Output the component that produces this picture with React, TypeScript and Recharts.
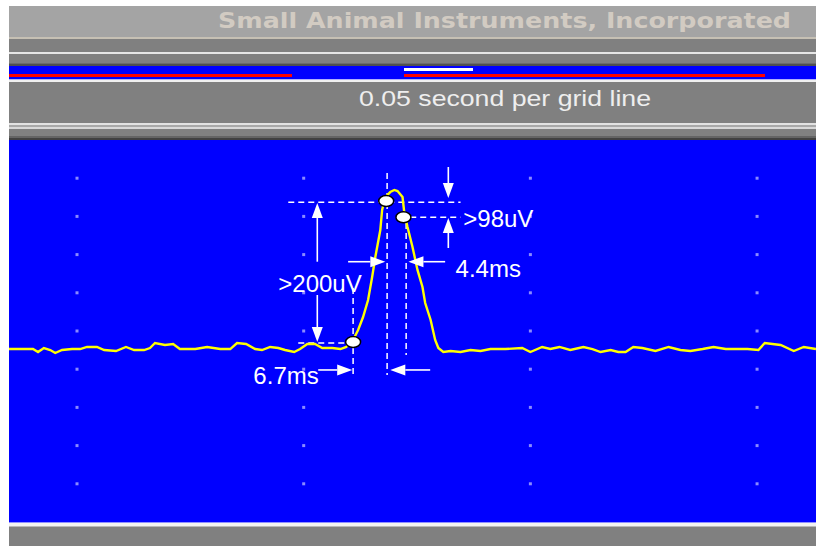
// Oscilloscope-style capture: single evoked potential on a blue scope face,
// with the measurement annotations (amplitude and timing) drawn as reference marks.

import {
  ComposedChart, Line, Scatter, XAxis, YAxis,
  ReferenceLine, ReferenceDot
} from 'recharts'

// trace, time in ms (0.05 s per grid column) and amplitude in uV
const TIME_MS = [
  0, 2.4, 5.3, 6.4, 7.7, 9.1, 10.2, 11.7, 13.9, 15.7, 17.2, 19.4, 21.0, 23.6, 25.8,
  27.6, 29.8, 31.1, 32.2, 34.4, 36.2, 37.7, 41.1, 43.7, 46.6, 48.8, 50.3, 52.3, 54.3,
  55.8, 57.6, 59.4, 60.9, 62.9, 64.2, 65.8, 67.5, 69.1, 71.3, 73.1, 74.4,
  75.9, 77.0, 78.1, 79.2, 80.1, 80.8, 81.9, 82.3, 83.0, 84.1, 85.0, 85.7, 86.8,
  87.2, 87.9, 89.0, 90.1, 91.2, 91.8, 93.0, 94.0, 94.7, 95.8,
  97.4, 99.6, 101.8, 104.0, 106.2, 109.5, 113.2, 115.0, 117.6, 119.4, 121.4, 123.8,
  126.7, 128.7, 130.5, 132.7, 134.4, 136.0, 137.7, 139.7, 142.6, 145.5, 148.1, 150.3,
  153.0, 155.4, 158.1, 162.9, 165.3, 166.7, 168.4, 170.2, 173.1, 175.3, 178.0,
]
const SIGNAL_UV = [
  26.4, 26.4, 26.4, 22.5, 27.7, 25.1, 21.2, 25.1, 26.4, 26.4, 29.1, 29.1, 25.1, 23.8, 29.1,
  25.1, 25.1, 27.7, 34.3, 31.7, 33.0, 26.4, 26.4, 29.1, 26.4, 26.4, 34.3, 33.0, 26.4,
  25.1, 29.1, 27.7, 25.1, 22.5, 26.4, 33.0, 33.0, 27.7, 27.7, 26.4, 29.1,
  38.2, 51.3, 68.3, 90.6, 120.7, 146.9, 182.2, 208.4, 225.4, 231.9, 234.6, 233.2, 225.4,
  204.5, 186.1, 160.0, 129.9, 107.6, 86.6, 64.4, 38.2, 27.7, 22.5,
  23.8, 22.5, 25.1, 23.8, 26.4, 26.4, 27.7, 22.5, 29.1, 26.4, 29.1, 25.1,
  29.1, 26.4, 22.5, 25.1, 22.5, 22.5, 29.1, 27.7, 23.8, 29.1, 25.1, 23.8,
  26.4, 29.1, 26.4, 26.4, 25.1, 34.3, 33.0, 31.7, 23.8, 29.1, 26.4,
]

// dotted graticule
const GRID_TIMES = [15, 65, 115, 165]
const GRID_LEVELS = [250, 200, 150, 100, 50, 0, -50, -100, -150]

// picked points on the trace (peak, 2nd peak point, onset)
const MARKER_T = [83.2, 87.0, 75.9]
const MARKER_UV = [220.2, 199.0, 35.6]

// dashed guides: [t1, uV1, t2, uV2]
const GUIDES = [
  [61.6, 218.4, 99.6, 218.4],
  [88.5, 198.8, 99.6, 198.8],
  [63.8, 34.3, 75.3, 34.3],
  [83.4, 256.8, 83.4, -7.6],
  [75.9, 106.3, 75.9, -7.6],
  [87.6, 191.4, 87.6, 18.6],
]

// arrows: [tail t, tail uV, tip t, tip uV]
const ARROWS = [
  [68.0, 140.7, 68.0, 217.5],
  [68.0, 97.1, 68.0, 35.6],
  [96.9, 264.7, 96.9, 224.1],
  [96.9, 158.6, 96.9, 197.9],
  [74.8, 140.7, 83.0, 140.7],
  [96.2, 140.7, 88.1, 140.7],
  [68.2, -1.0, 75.7, -1.0],
  [92.9, -1.0, 84.1, -1.0],
]

const LABELS = ['>98uV', '4.4ms', '>200uV', '6.7ms']
const LABEL_T = [100.2, 98.5, 59.4, 53.9]
const LABEL_UV = [186.1, 120.7, 101.0, -19.4]

const traceData = TIME_MS.map((t, i) => ({ t, v: SIGNAL_UV[i] }))
const gridData = GRID_TIMES.flatMap(t => GRID_LEVELS.map(v => ({ t, v })))

const BLUE = '#0000ff'
const PANEL = '#808080'

function Arrow(p: any) {
  const { x1, y1, x2, y2 } = p
  const dx = x2 - x1
  const dy = y2 - y1
  const len = Math.hypot(dx, dy) || 1
  const ux = dx / len
  const uy = dy / len
  const hl = 15
  const hw = 5.5
  const bx = x2 - ux * hl
  const by = y2 - uy * hl
  const px = -uy * hw
  const py = ux * hw
  return (
    <g>
      <line x1={x1} y1={y1} x2={bx} y2={by} stroke="#ffffff" strokeWidth={1.6} />
      <polygon points={`${x2},${y2} ${bx + px},${by + py} ${bx - px},${by - py}`} fill="#ffffff" />
    </g>
  )
}

function Header() {
  return (
    <svg width={807} height={134} style={{ position: 'absolute', left: 0, top: 0 }}>
      <rect x={0} y={0} width={807} height={31} fill="#a4a4a4" />
      <text
        x={209} y={22} textLength={573} lengthAdjust="spacingAndGlyphs"
        fill="#d2cbc2" fontFamily="DejaVu Sans" fontWeight="bold" fontSize={21}
      >
        Small Animal Instruments, Incorporated
      </text>
      <rect x={0} y={31} width={807} height={2} fill="#c6c0b4" />
      <rect x={0} y={33} width={807} height={13} fill={PANEL} />
      <rect x={0} y={46} width={807} height={2} fill="#e6e6e6" />
      <rect x={0} y={48} width={807} height={9} fill={PANEL} />
      <rect x={0} y={57} width={807} height={1} fill="#6c6c6c" />
      <rect x={0} y={58} width={807} height={2} fill="#505050" />
      <rect x={0} y={60} width={807} height={13} fill={BLUE} />
      <rect x={395} y={62} width={69} height={3} fill="#ffffff" />
      <rect x={0} y={68} width={283} height={3} fill="#ff0000" />
      <rect x={395} y={68} width={361} height={3} fill="#ff0000" />
      <rect x={0} y={73} width={807} height={1} fill="#b0b0ff" />
      <rect x={0} y={74} width={807} height={2} fill="#f0f0f0" />
      <rect x={0} y={76} width={807} height={41} fill={PANEL} />
      <text
        x={350} y={100} textLength={292} lengthAdjust="spacingAndGlyphs"
        fill="#eeeeee" fontFamily="Liberation Sans" fontSize={22}
      >
        0.05 second per grid line
      </text>
      <rect x={0} y={117} width={807} height={2} fill="#e2e2e2" />
      <rect x={0} y={119} width={807} height={2} fill="#a8a8a8" />
      <rect x={0} y={121} width={807} height={2} fill="#d8d8d8" />
      <rect x={0} y={123} width={807} height={7} fill={PANEL} />
      <rect x={0} y={130} width={807} height={2} fill="#646464" />
      <rect x={0} y={132} width={807} height={2} fill="#404040" />
    </svg>
  )
}

export default function App() {
  return (
    <div style={{ position: 'absolute', left: 9, top: 6, width: 807, height: 540, background: PANEL, overflow: 'hidden' }}>
      <Header />
      <div style={{ position: 'absolute', left: 0, top: 134, width: 807, height: 382, background: BLUE }}>
        <ComposedChart width={807} height={382} margin={{ top: 0, right: 0, bottom: 0, left: 0 }}>
          <XAxis type="number" dataKey="t" domain={[0, 178]} hide allowDataOverflow />
          <YAxis type="number" dataKey="v" domain={[-200, 300]} hide allowDataOverflow />
          <Scatter
            data={gridData}
            isAnimationActive={false}
            shape={(p: any) => <rect x={p.cx - 1.5} y={p.cy - 1.5} width={3} height={3} fill="#8a8aff" />}
          />
          {GUIDES.map((g, i) => (
            <ReferenceLine
              key={`guide-${i}`}
              segment={[{ x: g[0], y: g[1] }, { x: g[2], y: g[3] }]}
              stroke="#ffffff"
              strokeWidth={1.5}
              strokeDasharray="6 4"
              ifOverflow="visible"
            />
          ))}
          <Line
            data={traceData}
            dataKey="v"
            type="linear"
            stroke="#ffff00"
            strokeWidth={2.4}
            dot={false}
            isAnimationActive={false}
          />
          {ARROWS.map((a, i) => (
            <ReferenceLine
              key={`arrow-${i}`}
              segment={[{ x: a[0], y: a[1] }, { x: a[2], y: a[3] }]}
              ifOverflow="visible"
              shape={(p: any) => <Arrow {...p} />}
            />
          ))}
          {MARKER_T.map((t, i) => (
            <ReferenceDot
              key={`mark-${i}`}
              x={t}
              y={MARKER_UV[i]}
              ifOverflow="visible"
              shape={(p: any) => (
                <ellipse cx={p.cx} cy={p.cy} rx={7.5} ry={5.5} fill="#ffffff" stroke="#000000" strokeWidth={1.5} />
              )}
            />
          ))}
          {LABELS.map((s, i) => (
            <ReferenceDot
              key={`label-${i}`}
              x={LABEL_T[i]}
              y={LABEL_UV[i]}
              ifOverflow="visible"
              shape={(p: any) => (
                <text x={p.cx} y={p.cy} fill="#ffffff" fontFamily="Liberation Sans" fontSize={24}>
                  {s}
                </text>
              )}
            />
          ))}
        </ComposedChart>
      </div>
      <div style={{ position: 'absolute', left: 0, top: 516, width: 807, height: 1, background: '#9090ff' }} />
      <div style={{ position: 'absolute', left: 0, top: 517, width: 807, height: 3, background: '#f2f2f2' }} />
      <div style={{ position: 'absolute', left: 0, top: 520, width: 807, height: 1, background: '#b8b8b8' }} />
    </div>
  )
}
